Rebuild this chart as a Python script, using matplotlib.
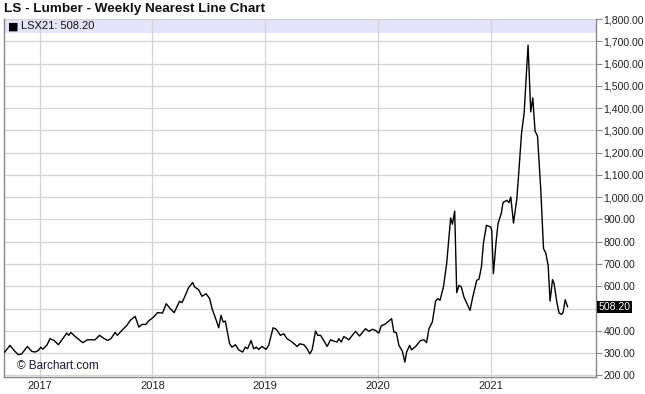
import matplotlib
matplotlib.use("Agg")
import matplotlib.pyplot as plt
from matplotlib.ticker import FuncFormatter, MultipleLocator

plt.rcParams['font.family'] = ['Liberation Sans', 'DejaVu Sans']

# weekly nearest close (decimal year, price)
years = [
    2016.691, 2016.738, 2016.774, 2016.812, 2016.842, 2016.892, 2016.931, 2016.960,
    2016.989, 2017.011, 2017.028, 2017.064, 2017.093, 2017.129, 2017.167, 2017.211,
    2017.241, 2017.259, 2017.277, 2017.315, 2017.383, 2017.424, 2017.492, 2017.531,
    2017.566, 2017.602, 2017.632, 2017.670, 2017.690, 2017.729, 2017.774, 2017.803,
    2017.823, 2017.847, 2017.880, 2017.907, 2017.942, 2017.965, 2018.010, 2018.045,
    2018.090, 2018.122, 2018.158, 2018.193, 2018.240, 2018.262, 2018.285, 2018.320,
    2018.356, 2018.374, 2018.409, 2018.439, 2018.475, 2018.507, 2018.528, 2018.566,
    2018.587, 2018.608, 2018.626, 2018.646, 2018.684, 2018.705, 2018.735, 2018.764,
    2018.799, 2018.823, 2018.844, 2018.874, 2018.897, 2018.921, 2018.941, 2018.972,
    2019.007, 2019.030, 2019.069, 2019.098, 2019.134, 2019.163, 2019.193, 2019.238,
    2019.282, 2019.305, 2019.341, 2019.371, 2019.394, 2019.415, 2019.445, 2019.465,
    2019.489, 2019.518, 2019.548, 2019.578, 2019.607, 2019.637, 2019.651, 2019.673,
    2019.696, 2019.740, 2019.799, 2019.835, 2019.888, 2019.918, 2019.948, 2019.977,
    2020.006, 2020.027, 2020.066, 2020.119, 2020.139, 2020.161, 2020.184, 2020.214,
    2020.237, 2020.252, 2020.279, 2020.296, 2020.332, 2020.347, 2020.376, 2020.406,
    2020.429, 2020.450, 2020.480, 2020.509, 2020.530, 2020.548, 2020.578, 2020.607,
    2020.642, 2020.658, 2020.678, 2020.696, 2020.716, 2020.737, 2020.760, 2020.814,
    2020.835, 2020.873, 2020.893, 2020.915, 2020.933, 2020.959, 2020.997, 2021.006,
    2021.021, 2021.045, 2021.062, 2021.092, 2021.106, 2021.139, 2021.160, 2021.175,
    2021.199, 2021.228, 2021.243, 2021.270, 2021.293, 2021.328, 2021.352, 2021.370,
    2021.390, 2021.412, 2021.441, 2021.465, 2021.485, 2021.506, 2021.523, 2021.545,
    2021.559, 2021.583, 2021.603, 2021.625, 2021.639, 2021.657, 2021.678,
]
prices = [
    305, 335, 312, 293, 297, 330, 308, 305,
    312, 327, 318, 335, 365, 357, 338, 369,
    390, 380, 393, 375, 347, 360, 360, 380,
    368, 357, 365, 393, 380, 402, 425, 447,
    455, 465, 417, 429, 429, 444, 462, 482,
    480, 522, 500, 482, 533, 527, 552, 594,
    617, 597, 585, 555, 567, 545, 500, 447,
    414, 470, 440, 444, 342, 327, 338, 315,
    305, 327, 320, 357, 320, 327, 317, 330,
    317, 335, 414, 407, 380, 387, 365, 350,
    330, 342, 338, 320, 297, 315, 399, 380,
    380, 357, 330, 360, 354, 350, 365, 350,
    375, 360, 398, 377, 410, 398, 407, 402,
    390, 422, 432, 455, 395, 392, 335, 309,
    260, 305, 335, 315, 330, 339, 357, 360,
    347, 410, 440, 534, 545, 537, 597, 702,
    907, 879, 938, 572, 604, 597, 552, 492,
    545, 627, 632, 687, 795, 874, 866, 852,
    657, 800, 882, 930, 976, 986, 976, 1001,
    884, 990, 1091, 1286, 1376, 1683, 1383, 1446,
    1297, 1274, 1031, 769, 750, 694, 534, 630,
    612, 529, 480, 474, 484, 540, 508.2,
]
year_ticks = [2017, 2018, 2019, 2020, 2021]
last_price = 508.20
contract = "LSX21"

fig = plt.figure(figsize=(6.45, 3.94), dpi=100)
ax = fig.add_axes([4 / 645, 1 - 377 / 394, 592 / 645, 358 / 394])

grid_c = "#d4d4d4"
ax.set_xlim(2016.685, 2021.93)
ax.set_ylim(193, 1800)
ax.set_xticks(year_ticks)
ax.set_xticklabels([str(y) for y in year_ticks])
ax.yaxis.set_major_locator(MultipleLocator(100))


def price_fmt(v, p):
    # the last-value box sits over the 500 label
    if abs(v - 500) < 1:
        return ""
    return f"{v:,.2f}"


ax.yaxis.set_major_formatter(FuncFormatter(price_fmt))
ax.yaxis.tick_right()
ax.grid(True, color=grid_c, linewidth=0.9)
ax.set_axisbelow(True)

# legend band across the top of the plot
ax.axhspan(1735, 1800, color="#e4e4fa", zorder=0.5, linewidth=0)

ax.plot(years, prices, color="black", linewidth=1.0, zorder=3)

ax.spines["top"].set_visible(False)
for side in ["left", "right", "bottom"]:
    ax.spines[side].set_color("#888888")
    ax.spines[side].set_linewidth(1.0)

ax.tick_params(axis="y", direction="out", length=4, width=0.8, color="#888888",
               labelsize=7.6, labelcolor="#222222", pad=1.5)
ax.tick_params(axis="x", direction="out", length=2, width=0.8, color=grid_c,
               labelsize=8, labelcolor="#222222", pad=1)

# highlighted last value on the price axis
ax.text(1.004, last_price, f"{last_price:.2f}", transform=ax.get_yaxis_transform(),
        ha="left", va="center", fontsize=7.6, color="white",
        bbox=dict(boxstyle="square,pad=0.12", facecolor="black", edgecolor="none"),
        zorder=5)

fig.text(4 / 645, 1 - 9 / 394, "LS - Lumber - Weekly Nearest Line Chart",
         ha="left", va="center", fontsize=9.7, fontweight="bold", color="#111111")
ax.text(0.007, 1767, "\u25a0", transform=ax.get_yaxis_transform(), ha="left",
        va="center", fontsize=8, color="black", family="DejaVu Sans")
ax.text(0.029, 1767, f"{contract}: {last_price:.2f}", transform=ax.get_yaxis_transform(),
        ha="left", va="center", fontsize=8, color="#111111")
ax.text(0.022, 242, "\u00a9 Barchart.com", transform=ax.get_yaxis_transform(),
        ha="left", va="center", fontsize=8.5, color="#1a1a3a")

fig.savefig("out.png", dpi=100)
